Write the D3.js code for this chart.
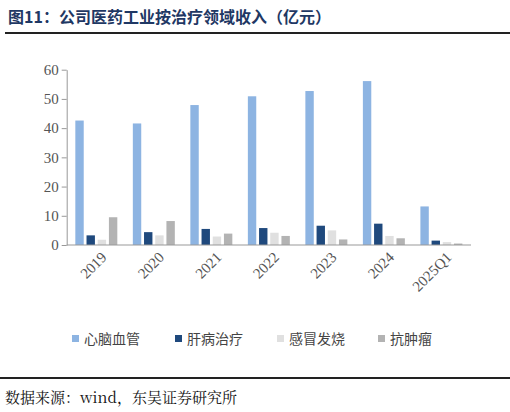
<!DOCTYPE html>
<html><head><meta charset="utf-8">
<script src="https://cdn.jsdelivr.net/npm/d3@7"></script>
<style>body{margin:0;background:#fff}</style>
</head><body>
<div class="chart"></div>
<script>
var categories = ["2019", "2020", "2021", "2022", "2023", "2024", "2025Q1"];
var seriesNames = ["心脑血管", "肝病治疗", "感冒发烧", "抗肿瘤"];
var seriesColors = ["#8db4e2", "#1f497d", "#e0e0e0", "#b3b3b3"];
var cardio = [42.6, 41.6, 47.9, 50.9, 52.7, 56.1, 13.2];
var liver = [3.3, 4.4, 5.5, 5.8, 6.6, 7.3, 1.5];
var cold = [1.8, 3.3, 2.9, 4.2, 5.0, 3.1, 1.0];
var tumor = [9.5, 8.2, 3.9, 3.1, 1.9, 2.3, 0.5];
var yTicks = [0, 10, 20, 30, 40, 50, 60];

var series = [cardio, liver, cold, tumor];
var svg = d3.select(".chart").append("svg").attr("width", 510).attr("height", 412);
var serif = "'Liberation Serif','Noto Sans CJK SC',serif";
var cjk = "'Noto Sans CJK SC',sans-serif";

svg.append("text").attr("x", 8).attr("y", 23)
    .style("font-family", cjk).style("font-weight", "bold").style("font-size", "16px")
    .style("fill", "#1f3864").text("图11：公司医药工业按治疗领域收入（亿元）");
svg.append("rect").attr("x", 5).attr("y", 32).attr("width", 505).attr("height", 2).attr("fill", "#222");

var plotLeft = 66.7, plotRight = 471, plotTop = 69.7, plotBottom = 245;
var x = d3.scaleBand().domain(categories).range([plotLeft, plotRight]).paddingInner(0.27).paddingOuter(0.15);
var xs = d3.scaleBand().domain(d3.range(4)).range([0, x.bandwidth()]).paddingInner(0.25);
var y = d3.scaleLinear().domain([0, 60]).range([plotBottom, plotTop]);

var g = svg.append("g");
series.forEach(function(vals, si) {
    g.selectAll(".s" + si).data(vals).enter().append("rect")
        .attr("x", function(d, i) { return x(categories[i]) + xs(si); })
        .attr("y", function(d) { return y(d); })
        .attr("width", xs.bandwidth())
        .attr("height", function(d) { return plotBottom - y(d); })
        .attr("fill", seriesColors[si]);
});

var yAxis = svg.append("g").attr("transform", "translate(" + plotLeft + ",0)")
    .call(d3.axisLeft(y).tickValues(yTicks).tickSize(5).tickSizeOuter(0));
yAxis.selectAll("text").style("font-family", serif).style("font-size", "15px").style("fill", "#555");
yAxis.selectAll("line,path").attr("stroke", "#999");

var xAxis = svg.append("g").attr("transform", "translate(0," + plotBottom + ")")
    .call(d3.axisBottom(x).tickSize(0).tickSizeOuter(0));
xAxis.select("path").attr("d", "M" + plotLeft + ",0H" + plotRight).attr("stroke", "#999");
xAxis.selectAll("text").style("font-family", serif).style("font-size", "15px").style("fill", "#555")
    .attr("text-anchor", "end").attr("dy", "0.3em")
    .attr("transform", "translate(6,8) rotate(-45)");

var legX = [72, 175, 277, 378];
seriesNames.forEach(function(n, i) {
    svg.append("rect").attr("x", legX[i]).attr("y", 335).attr("width", 7).attr("height", 7).attr("fill", seriesColors[i]);
    svg.append("text").attr("x", legX[i] + 12).attr("y", 344)
        .style("font-family", cjk).style("font-size", "14px").style("fill", "#444").text(n);
});

svg.append("rect").attr("x", 0).attr("y", 377).attr("width", 510).attr("height", 2).attr("fill", "#222");
svg.append("text").attr("x", 5).attr("y", 403)
    .style("font-family", "'Noto Serif CJK SC','Liberation Serif','Noto Sans CJK SC',serif").style("font-size", "15px")
    .style("fill", "#111").text("数据来源：wind，东吴证券研究所");
</script>
</body></html>
